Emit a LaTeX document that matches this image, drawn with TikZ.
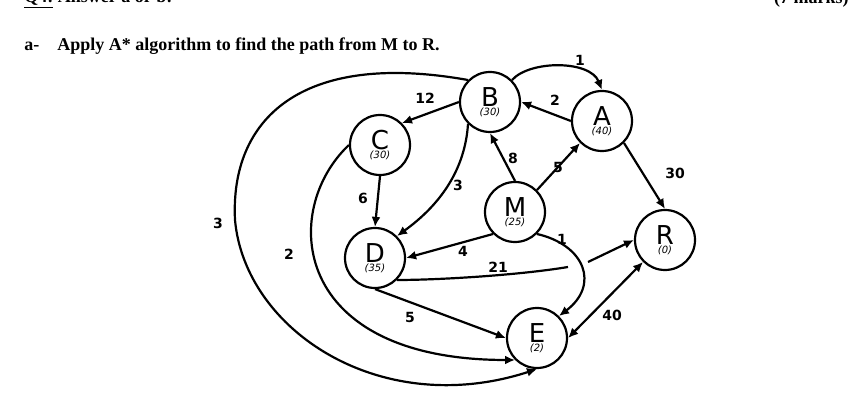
\documentclass[tikz,border=0pt]{standalone}
\usepackage{fontspec}
\setmainfont{Liberation Serif}
\newfontfamily\dejavu{DejaVu Sans}
\tikzset{every picture/.style={line width=2.2pt}}
\tikzset{
  city/.style={draw,circle,minimum size=60pt,inner sep=0pt,font=\dejavu},
  cost/.style={font=\dejavu\bfseries\fontsize{14}{14}\selectfont},
  road/.style={-{Latex[length=10pt,width=9pt]}}
}
\usetikzlibrary{arrows.meta}
\newcommand{\city}[2]{\fontsize{26}{26}\selectfont #1\\[-3pt]{\fontsize{10}{10}\selectfont\itshape (#2)}}

\begin{document}
\begin{tikzpicture}[x=1pt,y=1pt,yscale=-1,xscale=1]
	\useasboundingbox (0,0) rectangle (849,414);

	% Text Node
	\draw (20,-1) node [anchor=west] {\fontsize{18}{18}\selectfont\bfseries \underline{Q4:} Answer a or b:};
	% Text Node
	\draw (853,-1) node [anchor=east] {\fontsize{18}{18}\selectfont\bfseries (7 marks)};
	% Text Node
	\draw (20,46) node [anchor=west] {\fontsize{18}{18}\selectfont\bfseries a-\quad Apply A* algorithm to find the path from M to R.};

	% cities
	\node [city,align=center] (B) at (490,102) {\city{B}{30}};
	\node [city,align=center] (A) at (602,121) {\city{A}{40}};
	\node [city,align=center] (C) at (380,145) {\city{C}{30}};
	\node [city,align=center] (M) at (515,212) {\city{M}{25}};
	\node [city,align=center] (D) at (375,258) {\city{D}{35}};
	\node [city,align=center] (R) at (665,240) {\city{R}{0}};
	\node [city,align=center] (E) at (537,338) {\city{E}{2}};

	% roads
	\draw [road] (B.north east) .. controls (530,60) and (590,60) .. (A.north);
	\draw [road] (A.west) -- (B.east);
	\draw [road] (B.west) -- (C.north east);
	\draw [road] (B.south west) .. controls (465,170) and (440,205) .. (D.north east);
	\draw [road] (M.north) -- (B.south);
	\draw [road] (M.north east) -- (A.south west);
	\draw [road] (A.south east) -- (R.north);
	\draw [road] (C.south) -- (D.north);
	\draw [road] (M.south west) -- (D.east);
	\draw [road] (M.south east) .. controls (585,245) and (600,285) .. (E.north east);
	\draw (D.south east) .. controls (440,280) and (520,275) .. (568,267);
	\coordinate (gap) at (588,262);
	\draw [road] (gap) -- (R.west);
	\draw [road] (D.south) -- (E.west);
	\draw [{Latex[length=10pt,width=9pt]}-{Latex[length=10pt,width=9pt]}] (E.east) -- (R.south west);
	\draw [road] (C.west) .. controls (280,210) and (290,360) .. (E.south west);
	\draw [road] (B.north west) .. controls (300,50) and (230,120) .. (235,220) .. controls (245,330) and (380,420) .. (E.south);

	% costs
	\draw (580,60) node [cost] {1};
	\draw (555,100) node [cost] {2};
	\draw (425,98) node [cost] {12};
	\draw (458,185) node [cost] {3};
	\draw (513,158) node [cost] {8};
	\draw (558,167) node [cost] {5};
	\draw (675,173) node [cost] {30};
	\draw (363,198) node [cost] {6};
	\draw (463,251) node [cost] {4};
	\draw (562,239) node [cost] {1};
	\draw (498,267) node [cost] {21};
	\draw (410,317) node [cost] {5};
	\draw (612,315) node [cost] {40};
	\draw (289,254) node [cost] {2};
	\draw (218,223) node [cost] {3};

\end{tikzpicture}
\end{document}
